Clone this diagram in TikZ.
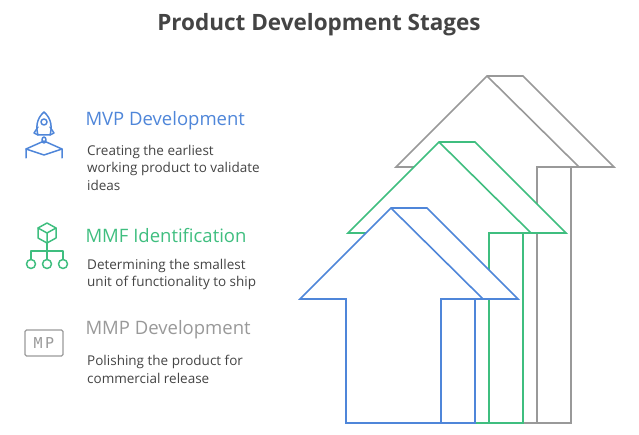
\documentclass[tikz,border=0pt]{standalone}
\usepackage{fontspec}
\setmainfont{Open Sans}
\setmonofont{DejaVu Sans Mono}
\usetikzlibrary{positioning}
\definecolor{mvpblue}{HTML}{4F86D9}
\definecolor{mmfgreen}{HTML}{3FBE7F}
\definecolor{mmpgray}{HTML}{999999}
\definecolor{txtgray}{HTML}{444444}
\newcommand{\stagearrow}[4]{% color, dx, dy, stem bottom
  \begin{scope}[shift={(#2,#3)}, draw=#1, line width=1.6pt, line join=miter]
  \filldraw[fill=white] (391,208) -- (427,208) -- (518,299) -- (475,299) -- (475,#4) -- (441,#4) -- (346,#4) -- (346,299) -- (300,299) -- cycle;
  \draw (391,208) -- (483,299) -- (518,299);
  \draw (483,299) -- (441,299) -- (441,#4);
  \end{scope}}
\begin{document}
\begin{tikzpicture}[x=1pt,y=-1pt,
    heading/.style={anchor=west, font=\fontsize{18.5}{22}\selectfont},
    body/.style={anchor=north west, align=left, text=txtgray, font=\fontsize{13.5}{17.5}\selectfont, inner sep=0pt},
    icon/.style={line width=1.5pt, line cap=round, line join=round}
  ]
  \useasboundingbox (0,0) rectangle (639,435);
  \node[font=\bfseries\fontsize{22.5}{26}\selectfont, text=txtgray] (title) at (319,25) {Product Development Stages};
  % arrows, back to front
  \stagearrow{mmpgray}{96}{-132}{555}
  \stagearrow{mmfgreen}{48}{-66}{489}
  \stagearrow{mvpblue}{0}{0}{423}
  % MVP
  \node[heading, text=mvpblue] (mvp) at (82,121) {MVP Development};
  \node[body] (mvptext) at (87,145) {Creating the earliest\\working product to validate\\ideas};
  \begin{scope}[icon, draw=mvpblue]
    \draw (44,112) .. controls (52,119) and (52,128) .. (50,135) -- (38,135) .. controls (36,128) and (36,119) .. (44,112);
    \draw (44,122) circle (3);
    \draw (38,127) -- (34,133) -- (38,135);
    \draw (50,127) -- (54,133) -- (50,135);
    \draw (44,140) ellipse (2 and 3);
    \draw (26,158) -- (26,149) -- (44,141) -- (62,149) -- (62,158);
    \draw (26,149) -- (44,155) -- (62,149);
  \end{scope}
  % MMF
  \node[heading, text=mmfgreen] (mmf) at (82,236) {MMF Identification};
  \node[body] (mmftext) at (87,259) {Determining the smallest\\unit of functionality to ship};
  \begin{scope}[icon, draw=mmfgreen]
    \draw (47,223) -- (56,228) -- (56,238) -- (47,243) -- (38,238) -- (38,228) -- cycle;
    \draw (38,228) -- (47,233) -- (56,228) (47,233) -- (47,243);
    \draw (47,243) -- (47,251) (31,259) -- (31,251) -- (63,251) -- (63,259) (47,251) -- (47,259);
    \draw (31,264) circle (4.5) (47,264) circle (4.5) (63,264) circle (4.5);
  \end{scope}
  % MMP
  \node[heading, text=mmpgray] (mmp) at (82,330) {MMP Development};
  \node[body] (mmptext) at (87,355) {Polishing the product for\\commercial release};
  \draw[icon, draw=mmpgray, line width=1.3pt, rounded corners=1.5pt] (25,330) rectangle (63,356);
  \node[font=\ttfamily\fontsize{15}{15}\selectfont, text=mmpgray] (mpicon) at (44,343) {M\,P};
\end{tikzpicture}
\end{document}
